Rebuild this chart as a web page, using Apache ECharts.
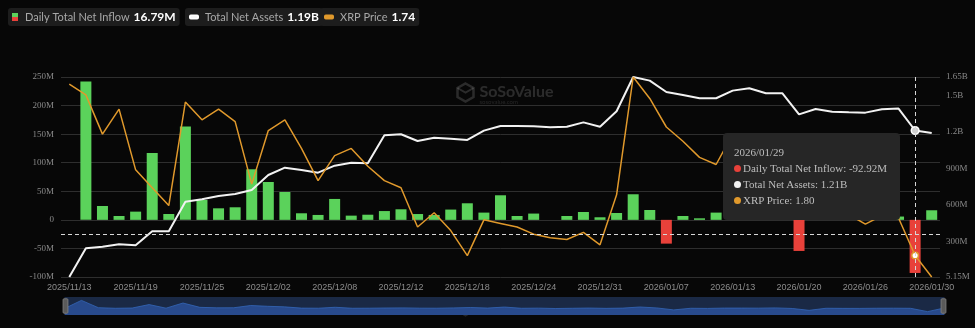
<!DOCTYPE html>
<html>
<head>
<meta charset="utf-8">
<script src="https://cdn.jsdelivr.net/npm/echarts@6/dist/echarts.min.js"></script>
<style>
  html, body { margin: 0; padding: 0; background: #070707; }
  #chart { width: 975px; height: 328px; }
</style>
</head>
<body>
<div id="chart"></div>
<script>
// Trading days of the XRP spot ETFs
const dates = [
  '2025/11/13','2025/11/14','2025/11/17','2025/11/18','2025/11/19','2025/11/20','2025/11/21',
  '2025/11/24','2025/11/25','2025/11/26','2025/11/28',
  '2025/12/01','2025/12/02','2025/12/03','2025/12/04','2025/12/05',
  '2025/12/08','2025/12/09','2025/12/10','2025/12/11','2025/12/12',
  '2025/12/15','2025/12/16','2025/12/17','2025/12/18','2025/12/19',
  '2025/12/22','2025/12/23','2025/12/24','2025/12/26',
  '2025/12/29','2025/12/30','2025/12/31','2026/01/02',
  '2026/01/05','2026/01/06','2026/01/07','2026/01/08','2026/01/09',
  '2026/01/12','2026/01/13','2026/01/14','2026/01/15','2026/01/16',
  '2026/01/20','2026/01/21','2026/01/22','2026/01/23',
  '2026/01/26','2026/01/27','2026/01/28','2026/01/29','2026/01/30'
];

// Daily total net inflow, millions USD
const netInflow = [
  0, 242, 24.3, 6.8, 14.4, 117, 10.3,
  163.2, 34.8, 20.2, 22,
  88.5, 66.3, 48.8, 11.5, 8.6,
  36.6, 7.4, 9, 15.4, 18.5,
  10.2, 8.6, 18, 29, 12.7,
  43, 6.8, 11, 0,
  6.8, 13.8, 4.5, 12,
  44.8, 17.3, -41.6, 6.8, 2.7,
  12.7, 13, 10.6, 18, 1.1,
  -54.4, 7.2, 4, 3.1,
  7.8, 9.2, 5.8, -92.92, 16.79
];

// Total net assets, millions USD
const totalNetAssets = [
  5.15, 241, 254, 274, 266, 381, 381,
  624, 644, 671, 688,
  721, 844, 904, 885, 863,
  921, 945, 940, 1170, 1179,
  1124, 1151, 1143, 1132, 1209,
  1247, 1247, 1244, 1236,
  1241, 1277, 1241, 1368,
  1650, 1620, 1527, 1502, 1475,
  1475, 1538, 1557, 1516, 1516,
  1343, 1387, 1365, 1360,
  1357, 1384, 1390, 1210, 1190
];

// XRP price, USD
const xrpPrice = [
  2.28, 2.25, 2.14, 2.21, 2.04, 1.99, 1.94,
  2.23, 2.18, 2.21, 2.175,
  2.00, 2.15, 2.18, 2.10, 2.01,
  2.08, 2.10, 2.05, 2.01, 1.99,
  1.88, 1.92, 1.87, 1.80, 1.90,
  1.89, 1.88, 1.86, 1.85,
  1.845, 1.865, 1.83, 1.97,
  2.30, 2.24, 2.16, 2.12, 2.075,
  2.055, 2.14, 2.12, 2.07, 2.05,
  1.95, 1.93, 1.94, 1.915,
  1.888, 1.912, 1.905, 1.80, 1.74
];

const seriesNames = ['Daily Total Net Inflow', 'Total Net Assets', 'XRP Price'];
const hoverDate = '2026/01/29';
const hoverLevel = -26; // vertical position of the pointer, in M on the left axis

const GREEN = '#5bd25b';
const RED = '#e8413a';
const WHITE = '#f2f2f2';
const ORANGE = '#e0992c';
const SERIF = '"Liberation Serif", "Times New Roman", serif';
const SANS = '"Liberation Sans", Arial, sans-serif';

function fmtMillions(v) { return v.toFixed(2) + 'M'; }
function fmtAssets(v) { return v >= 1000 ? (v / 1000).toFixed(2) + 'B' : v.toFixed(2) + 'M'; }
function fmtPrice(v) { return v.toFixed(2); }
const formatters = [fmtMillions, fmtAssets, fmtPrice];
const lastValues = [
  fmtMillions(netInflow[netInflow.length - 1]),
  fmtAssets(totalNetAssets[totalNetAssets.length - 1]),
  fmtPrice(xrpPrice[xrpPrice.length - 1])
];

function legendBox(name, left, icon, iconW, iconH, iconColor) {
  return {
    data: [{ name: name, icon: icon, itemStyle: { color: iconColor } }],
    left: left,
    top: 8,
    orient: 'horizontal',
    selectedMode: false,
    backgroundColor: '#1d1d1d',
    borderRadius: 3,
    padding: [3, 4, 3, 4],
    itemWidth: iconW,
    itemHeight: iconH,
    formatter: function (n) {
      return '{n|' + n + '}{v|' + lastValues[seriesNames.indexOf(n)] + '}';
    },
    textStyle: {
      rich: {
        n: { color: '#a8a8a8', fontSize: 11, fontFamily: 'Lato', padding: [0, 4, 0, 2] },
        v: { color: '#ffffff', fontSize: 12, fontWeight: 'bold', fontFamily: 'Lato' }
      }
    }
  };
}

const splitColor = '#2e2e2e';

const chart = echarts.init(document.getElementById('chart'), null, { renderer: 'canvas' });

const option = {
  backgroundColor: '#070707',
  animation: false,
  legend: [
    legendBox(seriesNames[0], 8, 'rect', 6, 8, {
      type: 'linear', x: 0, y: 0, x2: 0, y2: 1,
      colorStops: [
        { offset: 0, color: GREEN }, { offset: 0.5, color: GREEN },
        { offset: 0.5, color: RED }, { offset: 1, color: RED }
      ]
    }),
    legendBox(seriesNames[1], 185, 'roundRect', 8, 3, WHITE),
    legendBox(seriesNames[2], 320, 'roundRect', 8, 3, ORANGE)
  ],
  grid: { left: 61, right: 35, top: 77, bottom: 51 },
  tooltip: {
    trigger: 'axis',
    transitionDuration: 0,
    backgroundColor: '#262626',
    borderWidth: 0,
    padding: [11, 13, 12, 11],
    extraCssText: 'box-shadow:none;border-radius:4px;',
    textStyle: { color: '#bdbdbd', fontFamily: SERIF, fontSize: 11 },
    axisPointer: {
      type: 'cross',
      label: { show: false },
      lineStyle: { color: '#d8d8d8', type: [4, 3], width: 1 },
      crossStyle: { color: '#d8d8d8', type: [4, 3], width: 1 }
    },
    position: function (pt, params, dom, rect, size) {
      return [pt[0] - size.contentSize[0] - 15, pt[1] - size.contentSize[1] - 15];
    },
    formatter: function (params) {
      let html = '<div style="line-height:16px;font-family:' + SERIF.replace(/"/g, "'") + ';font-size:11px;color:#bdbdbd">';
      html += params[0].axisValue;
      params.forEach(function (p) {
        let c = p.seriesIndex === 0 ? (p.value < 0 ? RED : GREEN) : (p.seriesIndex === 1 ? WHITE : ORANGE);
        html += '<br/><span style="display:inline-block;width:7px;height:7px;border-radius:50%;margin-right:2px;vertical-align:0px;background:' + c + '"></span>' +
          p.seriesName + ': ' + formatters[p.seriesIndex](p.value);
      });
      return html + '</div>';
    }
  },
  xAxis: {
    type: 'category',
    data: dates,
    boundaryGap: true,
    axisLine: { show: false },
    axisTick: { show: false },
    axisLabel: { interval: 3, color: '#8c8c8c', fontFamily: SANS, fontSize: 9, margin: 6 }
  },
  yAxis: [
    {
      type: 'value',
      min: -100, max: 250, interval: 50,
      axisLine: { show: false }, axisTick: { show: false },
      splitLine: { lineStyle: { color: splitColor, width: 1 } },
      axisLabel: {
        color: '#8a8a8a', fontFamily: SERIF, fontSize: 9, margin: 7,
        formatter: function (v) { return v === 0 ? '0' : v + 'M'; }
      }
    },
    {
      type: 'value',
      min: 'dataMin', max: 'dataMax',
      position: 'right',
      axisLine: { show: false }, axisTick: { show: false },
      splitLine: { show: false },
      axisLabel: {
        color: '#8a8a8a', fontFamily: SERIF, fontSize: 9, margin: 6,
        formatter: function (v) { return v >= 1000 ? (v / 1000) + 'B' : v + 'M'; }
      }
    },
    {
      type: 'value',
      min: 'dataMin', max: 'dataMax',
      show: false,
      splitLine: { show: false }
    }
  ],
  dataZoom: [
    {
      type: 'slider',
      xAxisIndex: 0,
      start: 0, end: 100,
      left: 62, right: 33, bottom: 13, height: 18,
      backgroundColor: '#1a2945',
      borderColor: 'transparent',
      fillerColor: 'rgba(0,0,0,0)',
      showDetail: false,
      brushSelect: false,
      moveHandleSize: 0,
      handleIcon: 'path://M1,0 h3 a1,1 0 0 1 1,1 v13 a1,1 0 0 1 -1,1 h-3 a1,1 0 0 1 -1,-1 v-13 a1,1 0 0 1 1,-1 z',
      handleSize: '80%',
      handleStyle: { color: '#5a5a5a', borderColor: '#7a7a7a', borderWidth: 1 },
      dataBackground: {
        lineStyle: { color: '#3566b8', width: 1, opacity: 0.8 },
        areaStyle: { color: '#284a8c', opacity: 1 }
      },
      selectedDataBackground: {
        lineStyle: { color: '#3566b8', width: 1, opacity: 0.8 },
        areaStyle: { color: '#284a8c', opacity: 1 }
      }
    }
  ],
  graphic: [
    {
      type: 'group', left: 455, top: 81, silent: true,
      children: [
        { type: 'polygon', shape: { points: [[8, 0], [16, 4.5], [16, 13.5], [8, 18], [0, 13.5], [0, 4.5]] },
          style: { fill: 'none', stroke: 'rgba(255,255,255,0.15)', lineWidth: 2.5 } },
        { type: 'polyline', shape: { points: [[0, 4.5], [8, 9], [16, 4.5]] },
          style: { stroke: 'rgba(255,255,255,0.15)', lineWidth: 2 } },
        { type: 'text', x: 22, y: 0, style: { text: 'SoSoValue', font: 'bold 16px Lato', fill: 'rgba(255,255,255,0.15)' } },
        { type: 'text', x: 22, y: 16, style: { text: 'sosovalue.com', font: '6px Lato', fill: 'rgba(255,255,255,0.12)' } }
      ]
    },
    {
      type: 'group', left: 456, top: 297, silent: true,
      children: [
        { type: 'polygon', shape: { points: [[7, 0], [14, 4], [14, 12], [7, 16], [0, 12], [0, 4]] },
          style: { fill: 'none', stroke: 'rgba(255,255,255,0.12)', lineWidth: 2 } },
        { type: 'text', x: 22, y: 0, style: { text: 'SoSoValue', font: 'bold 14px Lato', fill: 'rgba(255,255,255,0.12)' } }
      ]
    }
  ],
  series: [
    {
      name: seriesNames[0],
      type: 'bar',
      data: netInflow,
      yAxisIndex: 0,
      barWidth: 11,
      itemStyle: { color: function (p) { return p.value < 0 ? RED : GREEN; } },
      emphasis: { disabled: true }
    },
    {
      name: seriesNames[1],
      type: 'line',
      data: totalNetAssets,
      yAxisIndex: 1,
      showSymbol: false,
      symbol: 'circle',
      symbolSize: 7,
      lineStyle: { color: WHITE, width: 2 },
      itemStyle: { color: '#cfcfcf', borderColor: '#ffffff', borderWidth: 1.5 },
      emphasis: { disabled: true }
    },
    {
      name: seriesNames[2],
      type: 'line',
      data: xrpPrice,
      yAxisIndex: 2,
      showSymbol: false,
      symbol: 'circle',
      symbolSize: 6,
      lineStyle: { color: ORANGE, width: 1.5 },
      itemStyle: { color: '#ffffff', borderColor: ORANGE, borderWidth: 1.5 },
      emphasis: { disabled: true }
    }
  ]
};

chart.setOption(option);

const px = chart.convertToPixel({ xAxisIndex: 0 }, hoverDate);
const py = chart.convertToPixel({ yAxisIndex: 0 }, hoverLevel);
chart.dispatchAction({ type: 'showTip', x: px, y: py });
</script>
</body>
</html>
